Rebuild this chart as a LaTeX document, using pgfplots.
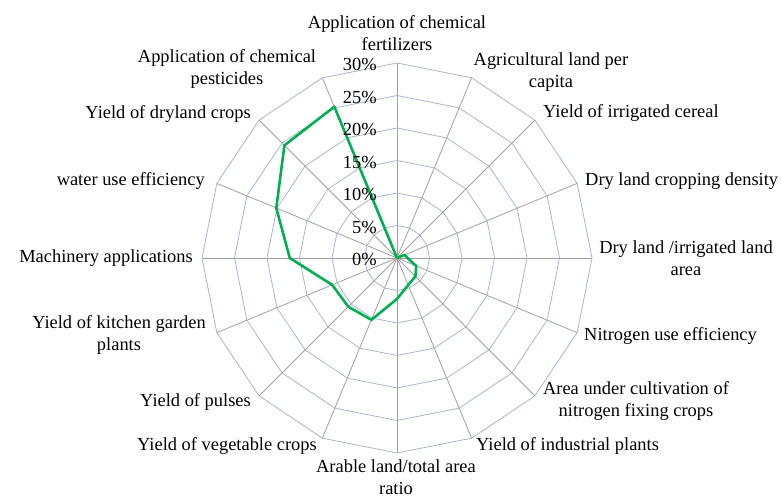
\documentclass[border=0pt]{standalone}
\usepackage{pgfplots}
\pgfplotsset{compat=1.18}
\usepackage{fontspec}
\setmainfont{Liberation Serif}
\definecolor{ringc}{HTML}{A7B6CE}
\definecolor{spokec}{HTML}{A0A0A0}
\definecolor{linec}{HTML}{00B050}
\newcommand{\lab}[4]{\node[#1,inner sep=0pt,align=center,font=\fontsize{18.5}{21.5}\selectfont] at (axis cs:{(#2-397)/6.5},{(258-#3)/6.5}) {#4};}
\begin{document}
\begin{tikzpicture}
\begin{axis}[
  scale only axis, width=782bp, height=501bp,
  xmin=-61.0769, xmax=59.2308, ymin=-37.3846, ymax=39.6923,
  hide axis, clip=false,
]
% spokes
\pgfplotsinvokeforeach{90,67.5,45,22.5,0,-22.5,-45,-67.5,-90,-112.5,-135,-157.5,-180,-202.5,-225,-247.5}{
  \addplot[spokec, line width=0.8pt, data cs=polar] coordinates {(#1,0) (#1,30)};
}
% rings
\pgfplotsinvokeforeach{5,10,15,20,25,30}{
  \addplot[ringc, line width=0.8pt, data cs=polar] coordinates {(90,#1) (67.5,#1) (45,#1) (22.5,#1) (0,#1) (-22.5,#1) (-45,#1) (-67.5,#1) (-90,#1) (-112.5,#1) (-135,#1) (-157.5,#1) (-180,#1) (-202.5,#1) (-225,#1) (-247.5,#1) (90,#1)};
}
% data
\addplot[linec, line width=2.6pt, line join=round, data cs=polar] coordinates {
(90,0) (67.5,0) (45,0) (22.5,1.3) (0,1.6) (-22.5,3.2) (-45,4.0) (-67.5,4.5)
(-90,6.3) (-112.5,10.3) (-135,10.6) (-157.5,10.8) (-180,16.5) (-202.5,20.1)
(-225,24.5) (-247.5,25.2) (90,0)};
% radial tick labels
\pgfplotsinvokeforeach{0,5,10,15,20,25,30}{
  \node[anchor=east,inner sep=0pt,font=\fontsize{18.5}{21.5}\selectfont] at (axis cs:-3.1,{#1-0.3}) {#1\%};
}
% category labels
\lab{anchor=center}{397}{33}{Application of chemical\\fertilizers}
\lab{anchor=center}{551}{72}{Agricultural land per\\capita}
\lab{anchor=west}{543}{113}{Yield of irrigated cereal}
\lab{anchor=west}{585}{181}{Dry land cropping density}
\lab{anchor=center}{686}{258}{Dry land /irrigated land\\area}
\lab{anchor=west}{584}{336}{Nitrogen use efficiency}
\lab{anchor=center}{636}{401}{Area under cultivation of\\nitrogen fixing crops}
\lab{anchor=west}{476}{446}{Yield of industrial plants}
\lab{anchor=center}{396}{477}{Arable land/total area\\ratio}
\lab{anchor=east}{317}{446}{Yield of vegetable crops}
\lab{anchor=east}{251}{402}{Yield of pulses}
\lab{anchor=center}{119}{335}{Yield of kitchen garden\\plants}
\lab{anchor=east}{193}{258}{Machinery applications}
\lab{anchor=east}{205}{181}{water use efficiency}
\lab{anchor=east}{251}{114}{Yield of dryland crops}
\lab{anchor=center}{227}{69}{Application of chemical\\pesticides}
\end{axis}
\pgfresetboundingbox
\path (current axis.south west) rectangle (current axis.north east);
\end{tikzpicture}
\end{document}
